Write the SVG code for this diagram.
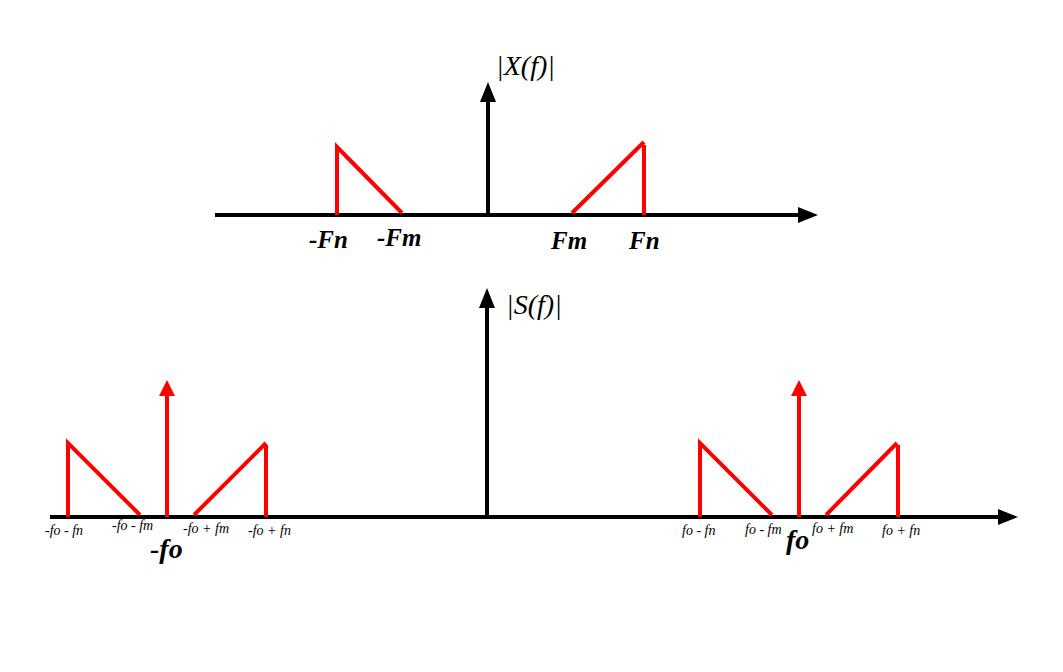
<svg xmlns="http://www.w3.org/2000/svg" width="1063" height="672" viewBox="0 0 1063 672">
<defs>
<marker id="ab" markerWidth="5" markerHeight="4" refX="0.5" refY="2" orient="auto" markerUnits="strokeWidth"><path d="M0,0 L5,2 L0,4 Z" fill="#000"/></marker>
<marker id="ar" markerWidth="4" markerHeight="4" refX="0.5" refY="2" orient="auto" markerUnits="strokeWidth"><path d="M0,0 L4,2 L0,4 Z" fill="#f00"/></marker>
<style>
.ax{stroke:#000;stroke-width:4;fill:none}
.sp{stroke:#f00;stroke-width:4;fill:none}
.lb{font-family:"Liberation Serif",serif;font-style:italic;font-size:28px;fill:#000}
.tk{font-family:"Liberation Serif",serif;font-style:italic;font-weight:bold;font-size:25px;fill:#000}
.sm{font-family:"Liberation Serif",serif;font-style:italic;font-size:14px;fill:#000}
.bg{font-family:"Liberation Serif",serif;font-style:italic;font-weight:bold;font-size:28px;fill:#000}
</style>
</defs>
<rect width="1063" height="672" fill="#fff"/>
<g id="connectors">
<line class="ax" x1="215" y1="215" x2="800" y2="215" marker-end="url(#ab)"/>
<line class="ax" x1="488" y1="215" x2="488" y2="100" marker-end="url(#ab)"/>
<line class="ax" x1="50" y1="517" x2="1000" y2="517" marker-end="url(#ab)"/>
<line class="ax" x1="487" y1="517" x2="487" y2="306" marker-end="url(#ab)"/>
</g>
<g id="top-left-band">
<path class="sp" d="M337,215 L337,147 L402,213"/>
</g>
<g id="top-right-band">
<path class="sp" d="M572,213 L644,142 M644,145 L644,215"/>
</g>
<g id="bottom-left">
<path class="sp" d="M68,517 L68,443 L140,515"/>
<line class="sp" x1="167" y1="517" x2="167" y2="394" marker-end="url(#ar)"/>
<path class="sp" d="M194,515 L266,443 M266,445 L266,517"/>
</g>
<g id="bottom-right">
<path class="sp" d="M700,517 L700,443 L772,515"/>
<line class="sp" x1="799" y1="517" x2="799" y2="394" marker-end="url(#ar)"/>
<path class="sp" d="M826,515 L897,443 M898,445 L898,517"/>
</g>
<g id="labels">
<text class="lb" x="496" y="75">|X(f)|</text>
<text class="lb" x="506" y="314">|S(f)|</text>
<text class="tk" x="309" y="248">-Fn</text>
<text class="tk" x="377" y="246">-Fm</text>
<text class="tk" x="551" y="249">Fm</text>
<text class="tk" x="629" y="249">Fn</text>
<text class="sm" x="45" y="535">-fo - fn</text>
<text class="sm" x="112" y="530">-fo - fm</text>
<text class="sm" x="183" y="533">-fo + fm</text>
<text class="sm" x="248" y="535">-fo + fn</text>
<text class="bg" x="150" y="558">-fo</text>
<text class="sm" x="682" y="535">fo - fn</text>
<text class="sm" x="745" y="534">fo - fm</text>
<text class="sm" x="812" y="533">fo + fm</text>
<text class="sm" x="882" y="535">fo + fn</text>
<text class="bg" x="786" y="549">fo</text>
</g>
</svg>
